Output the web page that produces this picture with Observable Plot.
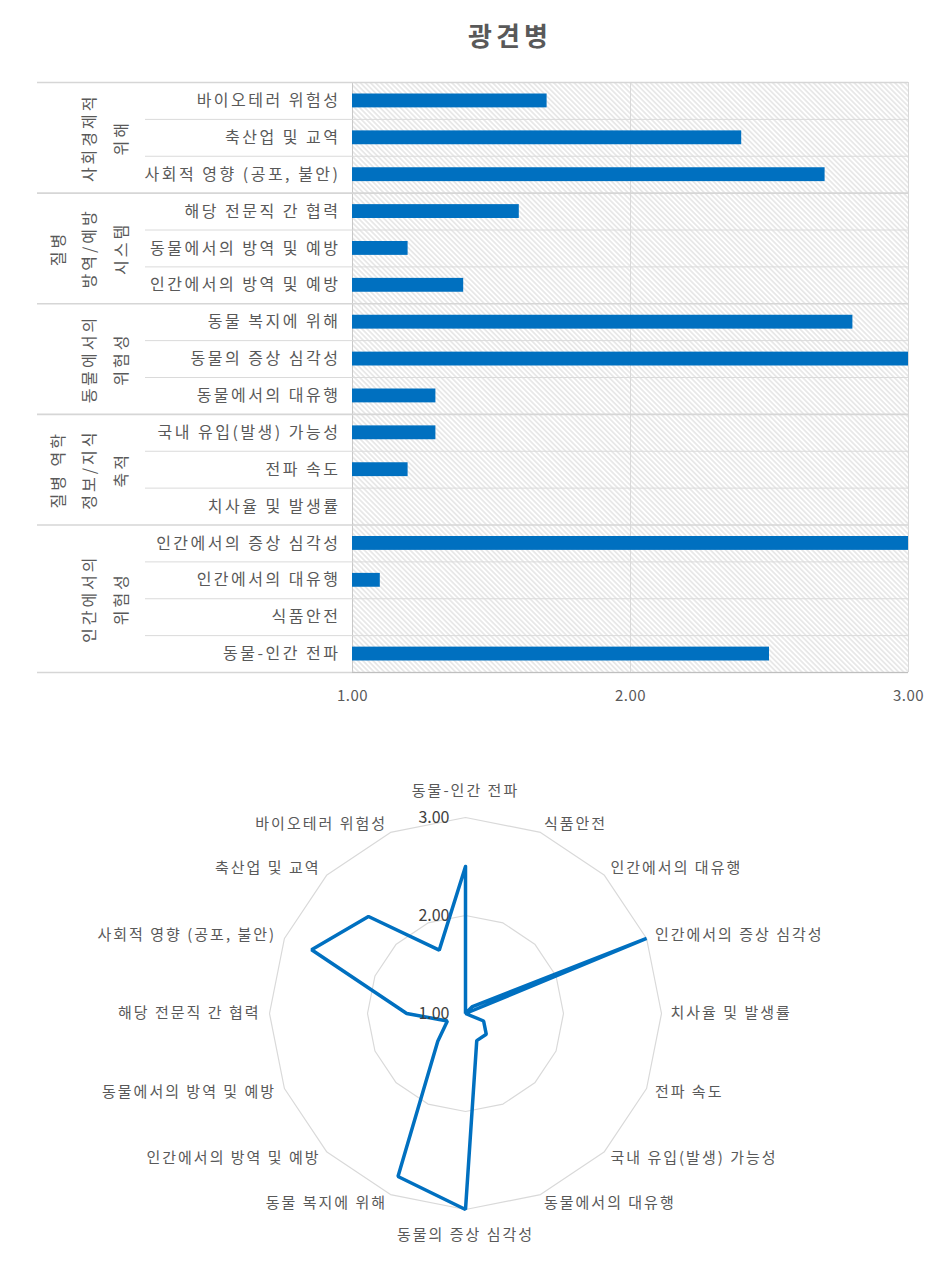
<!DOCTYPE html>
<html><head><meta charset="utf-8">
<script src="https://cdn.jsdelivr.net/npm/d3@7"></script>
<script src="https://cdn.jsdelivr.net/npm/@observablehq/plot@0.6"></script>
<style>
body{margin:0;background:#fff;font-family:"Noto Sans CJK KR","Noto Sans",sans-serif;}
#wrap{position:relative;width:940px;height:1266px;overflow:hidden;}
#title{position:absolute;left:410px;top:16px;width:200px;text-align:center;font-size:26px;font-weight:bold;color:#595959;letter-spacing:4px;}
#bar{position:absolute;left:0;top:0;}
#radar{position:absolute;left:0;top:720px;}
</style></head><body>
<div id="wrap"><div id="title">광견병</div><div id="bar"></div><div id="radar"></div></div>
<script>
const categories = ["바이오테러 위험성","축산업 및 교역","사회적 영향 (공포, 불안)","해당 전문직 간 협력","동물에서의 방역 및 예방","인간에서의 방역 및 예방","동물 복지에 위해","동물의 증상 심각성","동물에서의 대유행","국내 유입(발생) 가능성","전파 속도","치사율 및 발생률","인간에서의 증상 심각성","인간에서의 대유행","식품안전","동물-인간 전파"];
const values = [1.7,2.4,2.7,1.6,1.2,1.4,2.8,3.0,1.3,1.3,1.2,1.0,3.0,1.1,1.0,2.5];
const groupLabels = ["사회경제적\n위해","질병\n방역/예방\n시스템","동물에서의\n위험성","질병 역학\n정보/지식\n축적","인간에서의\n위험성"];
const groupSizes = [3,3,3,3,4];
const xTicks = [1,2,3];
const radarRings = [2,3];
const radarTickLabels = [1,2,3];

const fmt = d3.format(".2f");
const FONT = "'Noto Sans CJK KR','Noto Sans',sans-serif";

// ---------- bar chart ----------
const rows = categories.map((c,i)=>({c, v: values[i], i}));
let start = 0;
const groups = groupLabels.map((g,k)=>{const o={g, y1:start, y2:start+groupSizes[k]}; start += groupSizes[k]; return o;});
const groupEdges = [0, ...groups.map(g=>g.y2)];
const rowEdges = d3.range(1, categories.length).filter(e=>!groupEdges.includes(e));

const bar = Plot.plot({
  width:940, height:720,
  marginTop:82, marginBottom:48, marginLeft:352, marginRight:32,
  style:{fontFamily:FONT, background:"transparent"},
  x:{domain:[1,3], axis:null},
  y:{domain:[0,categories.length], reverse:true, axis:null},
  marks:[
    Plot.frame({fill:"url(#hatch)", stroke:"none"}),
    Plot.ruleX([2,3], {stroke:"#d9d9d9"}),
    Plot.ruleX([1], {stroke:"#c8c8c8"}),
    Plot.ruleY(rowEdges, {stroke:"#dadada", insetLeft:-207}),
    Plot.ruleY(groupEdges, {stroke:"#d6d6d6", strokeWidth:1.6, insetLeft:-315}),
    Plot.ruleY([categories.length], {stroke:"#bfbfbf"}),
    Plot.rectX(rows, {x1:1, x2:"v", y1:"i", y2:d=>d.i+1, insetTop:11.5, insetBottom:11.5, fill:"#0070C0"}),
    Plot.text(rows, {x:1, y:d=>d.i+0.5, text:"c", textAnchor:"end", dx:-12, fontSize:16, fill:"#595959"}),
    Plot.text(groups, {x:1, y:d=>(d.y1+d.y2)/2, text:"g", rotate:-90, lineAnchor:"bottom", textAnchor:"middle", lineHeight:1.95, dx:-226, fontSize:16, fill:"#595959"}),
    Plot.text(xTicks, {x:d=>d, frameAnchor:"bottom", dy:28, text:d=>fmt(d), fontSize:15, fill:"#595959"})
  ]
});
const defs = d3.select(bar).insert("defs", ":first-child");
const pat = defs.append("pattern").attr("id","hatch").attr("patternUnits","userSpaceOnUse")
  .attr("width",3.6).attr("height",3.6).attr("patternTransform","rotate(-45)");
pat.append("rect").attr("width",3.6).attr("height",3.6).attr("fill","#ffffff");
pat.append("line").attr("x1",1.8).attr("y1",0).attr("x2",1.8).attr("y2",3.6).attr("stroke","#d2d2d2").attr("stroke-width",0.9);
{
  const tg = d3.select(bar).selectAll('g[aria-label="text"]').nodes();
  const ls = ["2.5px","3px","0.5px"];
  tg.forEach((g,i)=>{ if (ls[i]) d3.select(g).style("letter-spacing", ls[i]); });
}
document.getElementById("bar").appendChild(bar);

// ---------- radar chart ----------
const N = categories.length;
const radarCats = categories.map((c,i)=>({c, v: values[i]})).reverse(); // clockwise from top
const ang = k => k*2*Math.PI/N;
const linePts = radarCats.map((d,k)=>({x:(d.v-1)*Math.sin(ang(k)), y:(d.v-1)*Math.cos(ang(k))}));
linePts.push(linePts[0]);
const ringPts = [];
radarRings.forEach(r=>{ for(let k=0;k<=N;k++) ringPts.push({ring:r, x:(r-1)*Math.sin(ang(k)), y:(r-1)*Math.cos(ang(k))}); });
const LR = 2.092;
const labels = radarCats.map((d,k)=>({c:d.c, s:Math.sin(ang(k)), x:LR*Math.sin(ang(k)), y:LR*Math.cos(ang(k))}));
const rightL = labels.filter(d=>d.s>0.01), leftL = labels.filter(d=>d.s<-0.01);
const topL = labels.filter(d=>Math.abs(d.s)<=0.01 && d.y>0), botL = labels.filter(d=>Math.abs(d.s)<=0.01 && d.y<0);
const lblOpt = {x:"x", y:"y", text:"c", fontSize:15, fill:"#595959"};

const radar = Plot.plot({
  width:940, height:546, margin:0,
  style:{fontFamily:FONT, background:"transparent"},
  x:{domain:[-2,2], range:[269,661], axis:null},
  y:{domain:[-2,2], range:[489,97], axis:null},
  marks:[
    Plot.line(ringPts, {x:"x", y:"y", z:"ring", stroke:"#d9d9d9", strokeWidth:1.2}),
    Plot.line(linePts, {x:"x", y:"y", stroke:"#0070C0", strokeWidth:3.5, strokeLinejoin:"miter"}),
    Plot.text(rightL, {...lblOpt, textAnchor:"start"}),
    Plot.text(leftL, {...lblOpt, textAnchor:"end"}),
    Plot.text(topL, {...lblOpt, textAnchor:"middle", dy:-17}),
    Plot.text(botL, {...lblOpt, textAnchor:"middle", dy:17}),
    Plot.text(radarTickLabels, {x:0, y:d=>d-1, text:d=>fmt(d), textAnchor:"end", dx:-16, fontSize:16, fill:"#404040"})
  ]
});
{
  const tg = d3.select(radar).selectAll('g[aria-label="text"]').nodes();
  const ls = ["2px","2px","2px","2px","0px"];
  tg.forEach((g,i)=>{ if (ls[i]) d3.select(g).style("letter-spacing", ls[i]); });
}
document.getElementById("radar").appendChild(radar);
</script>
</body></html>
